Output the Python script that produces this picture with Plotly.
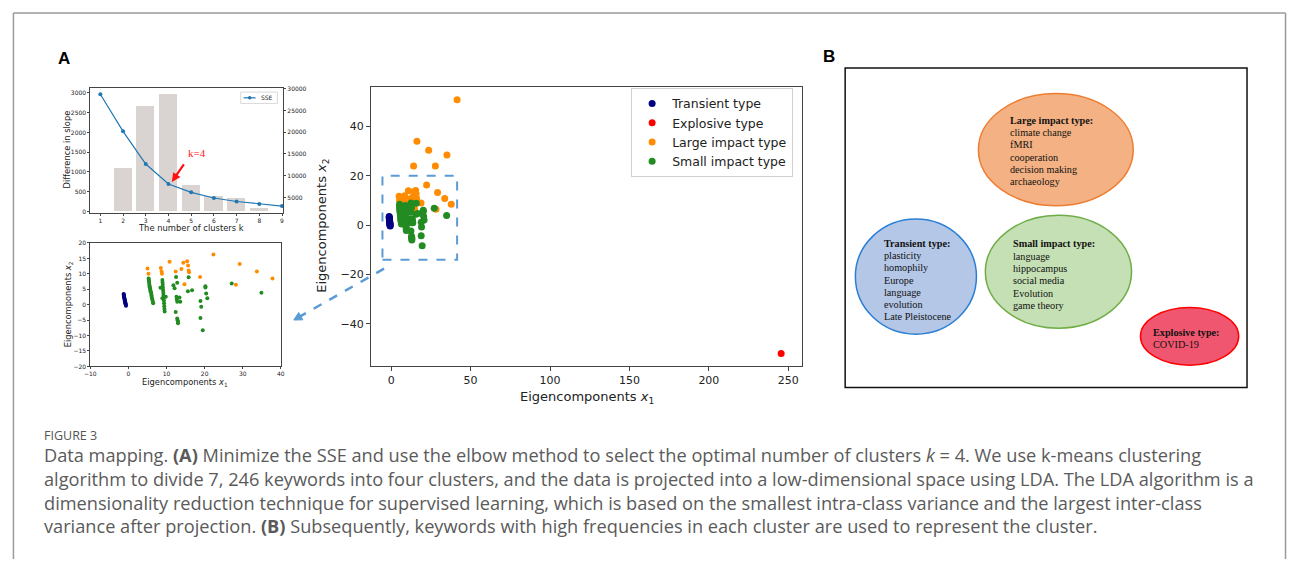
import plotly.graph_objects as go

W, H = 1293, 562

def X(px):
    return px / W

def Y(py):
    return 1 - py / H

# ---------------- DATA ----------------
k_values = [1, 2, 3, 4, 5, 6, 7, 8, 9]
sse_values = [28700, 20200, 12700, 8100, 6200, 4900, 4100, 3500, 3050]
diff_k = [2, 3, 4, 5, 6, 7, 8]
diff_values = [1090, 2680, 2970, 680, 400, 330, 80]

transient_x = [-1.25, -1.22, -1.18, -1.15, -1.1, -1.05, -1.0, -0.95, -0.9, -0.85, -0.8, -0.75, -0.7, -0.65]
transient_y = [3.5, 3.2, 2.9, 2.6, 2.3, 2.0, 1.7, 1.4, 1.1, 0.8, 0.5, 0.2, 0.0, -0.3]

explosive_x = [245.5]
explosive_y = [-52.0]

large_x = [5.0, 5.25, 8.5, 8.7, 8.8, 10.8, 12.4, 13.9, 14.4, 15.4, 15.65, 15.8, 15.9, 14.7, 18.8,
           22.3, 29.2, 28.2, 33.7, 37.8, 41.5, 16.2, 23.6, 35.1, 14.1, 27.8]
large_y = [11.7, 10.0, 11.9, 10.8, 10.0, 13.9, 10.8, 11.6, 13.6, 14.1, 12.7, 11.1, 10.5, 6.6, 9.0,
           16.3, 13.2, 6.5, 10.8, 8.5, 50.8, 34.0, 30.4, 28.4, 24.0, 24.0]

small_x = [5.3, 5.35, 5.4, 5.45, 5.5, 5.55, 5.6, 5.7, 5.75, 5.8, 5.9, 6.0, 6.05, 6.1, 6.2, 6.3, 6.4, 6.5,
           8.9, 8.95, 9.0, 9.05, 9.1, 9.15, 9.2, 9.25, 9.3, 9.35, 9.4, 9.45, 9.5,
           8.4, 9.8, 8.9, 11.8, 12.1, 12.5, 12.8, 12.4, 12.6, 12.7, 12.8, 12.8, 12.9, 13.0, 13.0,
           13.4, 13.6, 15.8, 15.6, 16.7, 20.2, 20.2, 18.9, 19.1, 18.9, 19.5, 20.4, 20.7, 27.1, 34.9]
small_y = [8.5, 8.0, 7.5, 7.0, 6.5, 6.0, 5.6, 5.2, 4.8, 4.4, 4.0, 3.5, 3.0, 2.5, 2.0, 1.5, 1.0, 0.5,
           8.0, 7.2, 6.4, 5.5, 4.6, 3.8, 3.0, 2.2, 1.4, 0.5, -0.5, -1.4, -2.2,
           5.5, 2.6, 2.1, 6.3, 5.3, 9.0, 7.1, -2.4, 2.6, 1.8, 1.0, -4.5, -5.0, -5.5, -6.0,
           2.3, 1.0, 8.9, 4.4, 4.7, 6.0, 5.6, 1.2, -0.7, -4.3, -8.3, 3.6, 2.1, 6.9, 3.9]

cluster_names = ["Transient type", "Explosive type", "Large impact type", "Small impact type"]

large_kw = ["climate change", "fMRI", "cooperation", "decision making", "archaeology"]
transient_kw = ["plasticity", "homophily", "Europe", "language", "evolution", "Late Pleistocene"]
small_kw = ["language", "hippocampus", "social media", "Evolution", "game theory"]
explosive_kw = ["COVID-19"]

main_x_ticks = [0, 50, 100, 150, 200, 250]
main_y_ticks = [-40, -20, 0, 20, 40]
inset_x_ticks = [-10, 0, 10, 20, 30, 40]
inset_y_ticks = [-20, -15, -10, -5, 0, 5, 10, 15, 20]
elbow_y_ticks = [0, 500, 1000, 1500, 2000, 2500, 3000]
sse_ticks = [5000, 10000, 15000, 20000, 25000, 30000]

def lab(v):
    return str(v).replace("-", "\u2212")

# ---------------- FIGURE ----------------
fig = go.Figure()
colors = ["#000080", "#ff0000", "#ff8c00", "#228b22"]
series = [(transient_x, transient_y), (explosive_x, explosive_y), (large_x, large_y), (small_x, small_y)]

fig.add_trace(go.Bar(x=diff_k, y=diff_values, width=0.8, marker=dict(color="#d9d4d2", line=dict(width=0)),
                     xaxis="x", yaxis="y", showlegend=False))
fig.add_trace(go.Scatter(x=k_values, y=sse_values, mode="lines+markers", name="SSE",
                         line=dict(color="#1f77b4", width=1.2), marker=dict(size=4, color="#1f77b4"),
                         xaxis="x", yaxis="y2", showlegend=False))

for (sx, sy), c in zip(series, colors):
    fig.add_trace(go.Scatter(x=sx, y=sy, mode="markers", marker=dict(size=4, color=c),
                             xaxis="x3", yaxis="y3", showlegend=False, cliponaxis=True))

for (sx, sy), c, n in zip(series, colors, cluster_names):
    fig.add_trace(go.Scatter(x=sx, y=sy, mode="markers", marker=dict(size=7, color=c), name=n,
                             xaxis="x4", yaxis="y4"))

tick_small = dict(family="DejaVu Sans", size=6, color="#222")
tick_main = dict(family="DejaVu Sans", size=11, color="#222")
ax_common = dict(showgrid=False, zeroline=False, showline=True, linecolor="#444", linewidth=1,
                 ticks="outside", tickcolor="#444")

fig.update_layout(
    width=W, height=H, margin=dict(l=0, r=0, t=0, b=0),
    paper_bgcolor="white", plot_bgcolor="white",
    xaxis=dict(domain=[X(85), X(279.3)], range=[0.56, 9.05], tickvals=k_values, tickfont=tick_small,
               ticklen=1.5, mirror=True, anchor="y", **ax_common),
    yaxis=dict(domain=[Y(211.7), Y(85)], range=[-42, 3125], tickvals=elbow_y_ticks, tickfont=tick_small,
               ticklen=2, mirror=True, anchor="x", **ax_common),
    yaxis2=dict(overlaying="y", side="right", range=[1442, 30160], tickvals=sse_ticks,
                ticktext=[str(v) for v in sse_ticks], tickfont=tick_small,
                ticklen=2, anchor="x", showgrid=False, zeroline=False, ticks="outside", tickcolor="#444",
                showline=False),
    xaxis3=dict(domain=[X(85), X(277)], range=[-10, 40], tickvals=inset_x_ticks,
                ticktext=[lab(v) for v in inset_x_ticks], tickfont=tick_small, ticklen=1.5, mirror=True,
                anchor="y3", **ax_common),
    yaxis3=dict(domain=[Y(367), Y(242)], range=[-20, 20], tickvals=inset_y_ticks,
                ticktext=[lab(v) for v in inset_y_ticks], tickfont=tick_small, ticklen=2, mirror=True,
                anchor="x3", **ax_common),
    xaxis4=dict(domain=[X(367.7), X(802)], range=[-12.8, 258.5], tickvals=main_x_ticks,
                ticktext=[lab(v) for v in main_x_ticks], tickfont=tick_main, ticklen=4, mirror=True,
                anchor="y4", **ax_common),
    yaxis4=dict(domain=[Y(366.7), Y(84)], range=[-57.1, 56], tickvals=main_y_ticks,
                ticktext=[lab(v) for v in main_y_ticks], tickfont=tick_main, ticklen=4, mirror=True,
                anchor="x4", **ax_common),
    legend=dict(x=X(630), y=Y(85), xanchor="left", yanchor="top", bgcolor="white",
                bordercolor="#d0d0d0", borderwidth=1, font=dict(family="DejaVu Sans", size=12.5, color="#222"),
                tracegroupgap=0, itemwidth=30),
    bargap=0,
)

shapes = []
annots = []

for x0, y0, x1, y1 in [(7.5, 9, 7.5, 562), (7.5, 9, 1289.5, 9), (1289.5, 9, 1289.5, 562)]:
    shapes.append(dict(type="line", xref="paper", yref="paper", x0=X(x0), y0=Y(y0), x1=X(x1), y1=Y(y1),
                       line=dict(color="#9a9a9a", width=1.5)))

shapes.append(dict(type="rect", xref="x4", yref="y4", x0=-5.5, x1=41.5, y0=-14.0, y1=20.0,
                   line=dict(color="#5b9bd5", width=2, dash="dash")))
shapes.append(dict(type="line", xref="paper", yref="paper", x0=X(381), y0=Y(268), x1=X(296.5), y1=Y(316.3),
                   line=dict(color="#5b9bd5", width=2.5, dash="dash")))
tip = (290, 320)
p1 = (299.2, 319.8)
p2 = (295.0, 312.4)
shapes.append(dict(type="path", xref="paper", yref="paper",
                   path=f"M {X(tip[0])} {Y(tip[1])} L {X(p1[0])} {Y(p1[1])} L {X(p2[0])} {Y(p2[1])} Z",
                   fillcolor="#5b9bd5", line=dict(color="#5b9bd5", width=1)))

# SSE legend (small)
shapes.append(dict(type="rect", xref="paper", yref="paper", x0=X(236.5), x1=X(273.5), y0=Y(100.8), y1=Y(89.2),
                   fillcolor="white", line=dict(color="#d0d0d0", width=0.8)))
shapes.append(dict(type="line", xref="paper", yref="paper", x0=X(239.5), x1=X(251.5), y0=Y(95), y1=Y(95),
                   line=dict(color="#1f77b4", width=1.2)))
shapes.append(dict(type="circle", xref="paper", yref="paper", x0=X(243.8), x1=X(247.4), y0=Y(96.8), y1=Y(93.2),
                   fillcolor="#1f77b4", line=dict(color="#1f77b4", width=0)))
annots.append(dict(text="SSE", x=X(255), y=Y(95), xref="paper", yref="paper", xanchor="left", yanchor="middle",
                   showarrow=False, font=dict(family="DejaVu Sans", size=6, color="#222")))

# k=4 arrow and text
annots.append(dict(x=4.15, y=8600, xref="x", yref="y2", ax=13, ay=-19, axref="pixel", ayref="pixel",
                   text="", showarrow=True, arrowhead=2, arrowsize=0.8, arrowwidth=2.2, arrowcolor="#ff1010"))
annots.append(dict(text="k=4", x=X(192.5), y=Y(150.5), xref="paper", yref="paper", showarrow=False,
                   xanchor="center", yanchor="middle",
                   font=dict(family="Liberation Serif", size=11, color="#ff2020")))

def title(text, cx, cy, size, angle=0):
    annots.append(dict(text=text, x=X(cx), y=Y(cy), xref="paper", yref="paper", showarrow=False,
                       textangle=angle, xanchor="center", yanchor="middle",
                       font=dict(family="DejaVu Sans", size=size, color="#222")))

title("Difference in slope", 61.7, 147, 8.3, -90)
title("The number of clusters k", 186.7, 227, 8.4)
title("Eigencomponents <i>x</i><sub>2</sub>", 62.5, 304, 8.3, -90)
title("Eigencomponents <i>x</i><sub>1</sub>", 180, 383.5, 8.3)
title("Eigencomponents <i>x</i><sub>2</sub>", 319, 225, 13, -90)
title("Eigencomponents <i>x</i><sub>1</sub>", 586, 398, 13)

for t, cx, cy in [("A", 58, 55), ("B", 829, 53)]:
    annots.append(dict(text=f"<b>{t}</b>", x=X(cx), y=Y(cy), xref="paper", yref="paper", showarrow=False,
                       xanchor="center", yanchor="middle",
                       font=dict(family="Liberation Sans", size=17, color="black")))

shapes.append(dict(type="rect", xref="paper", yref="paper", x0=X(845.7), x1=X(1250.7), y0=Y(388.3), y1=Y(64.7),
                   line=dict(color="#111", width=1.5)))

ellipses = [
    ((980, 90.7, 1136, 204.3), "#f4b183", "#ed7d31", "Large impact type:", large_kw, 1010, 117.7, 12.5),
    ((856, 217.7, 978, 334.3), "#b4c7e7", "#2a7fd4", "Transient type:", transient_kw, 883.3, 242.3, 12.4),
    ((987, 214, 1134.3, 328.3), "#c5e0b4", "#70ad47", "Small impact type:", small_kw, 1012.7, 242.7, 12.5),
    ((1143.3, 307.3, 1242.3, 365.7), "#f0566f", "#ff0000", "Explosive type:", explosive_kw, 1154.3, 332.7, 12.0),
]
for (x0, y0, x1, y1), fc, lc, head, kws, tx, ty, sp in ellipses:
    shapes.append(dict(type="circle", xref="paper", yref="paper", x0=X(x0), x1=X(x1), y0=Y(y1), y1=Y(y0),
                       fillcolor=fc, line=dict(color=lc, width=1.5)))
    lines = [f"<b>{head}</b>"] + kws
    for i, ln in enumerate(lines):
        annots.append(dict(text=ln, x=X(tx), y=Y(ty + i * sp), xref="paper", yref="paper", showarrow=False,
                           xanchor="left", yanchor="middle",
                           font=dict(family="Liberation Serif", size=10.2, color="#111")))

annots.append(dict(text="FIGURE 3", x=X(36), y=Y(437), xref="paper", yref="paper", showarrow=False,
                   xanchor="left", yanchor="middle", font=dict(family="Open Sans", size=12.5, color="#555")))
caption_lines = [
    "Data mapping. <b>(A)</b> Minimize the SSE and use the elbow method to select the optimal number of clusters <i>k</i> = 4. We use k-means clustering",
    "algorithm to divide 7, 246 keywords into four clusters, and the data is projected into a low-dimensional space using LDA. The LDA algorithm is a",
    "dimensionality reduction technique for supervised learning, which is based on the smallest intra-class variance and the largest inter-class",
    "variance after projection. <b>(B)</b> Subsequently, keywords with high frequencies in each cluster are used to represent the cluster.",
]
for i, ln in enumerate(caption_lines):
    annots.append(dict(text=ln, x=X(36), y=Y(457 + 24 * i), xref="paper", yref="paper", showarrow=False,
                       xanchor="left", yanchor="middle",
                       font=dict(family="Open Sans", size=18.2, color="#5a5a5a")))

fig.update_layout(shapes=shapes, annotations=annots)
fig.write_html("out.html")
